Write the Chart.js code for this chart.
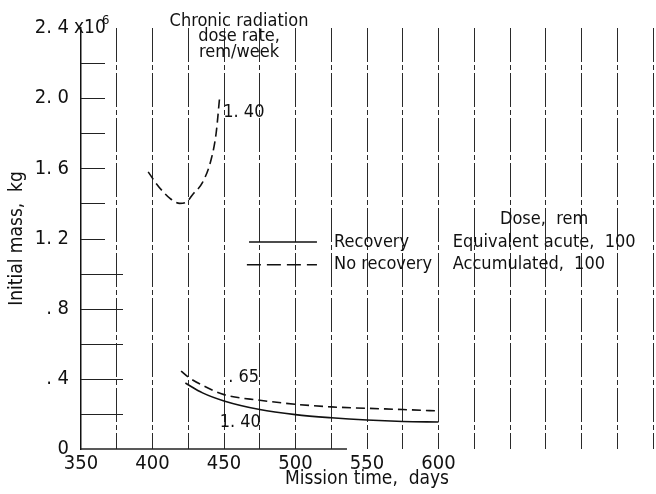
<!DOCTYPE html>
<html>
<head>
<meta charset="utf-8">
<script src="https://cdn.jsdelivr.net/npm/chart.js@4.4.1/dist/chart.umd.min.js"></script>
<style>
  html, body { margin: 0; padding: 0; background: #fff; }
</style>
</head>
<body>
<canvas id="chart" width="656" height="494"></canvas>
<script>
/* Initial mass vs mission time, chronic radiation dose rate */
const FONT = "'Liberation Sans Narrow', 'DejaVu Sans Condensed', sans-serif";

// [mission time (days), initial mass (x10^6 kg)]
const noRecovery140 = [[397,1.58],[402,1.52],[407,1.47],[412,1.43],[419,1.40],[424,1.41],[428,1.45],[435,1.52],[441,1.65],[444.5,1.80],[447,2.01]];
const noRecovery065 = [[420,0.444],[425,0.41],[437,0.355],[450,0.31],[475,0.278],[500,0.255],[525,0.24],[550,0.232],[575,0.225],[600,0.217]];
const recovery140 = [[423,0.376],[435,0.32],[450,0.274],[475,0.225],[500,0.196],[525,0.178],[550,0.165],[575,0.157],[600,0.154]];

const xLabelled = [350, 400, 450, 500, 550, 600];
const yLabels = { '0': '0', '0.4': '. 4', '0.8': '. 8', '1.2': '1. 2', '1.6': '1. 6', '2': '2. 0', '2.4': '2. 4' };

const toPts = arr => arr.map(p => ({ x: p[0], y: p[1] }));

function curve(data, dashed) {
  return {
    data: toPts(data),
    borderColor: '#111',
    borderWidth: 1.6,
    borderDash: dashed ? [9, 5] : [],
    pointRadius: 0,
    fill: false,
    tension: 0.4,
    cubicInterpolationMode: 'monotone'
  };
}

const decor = {
  id: 'decor',
  afterDraw(chart) {
    const { ctx, chartArea: a, scales: { x, y } } = chart;
    ctx.save();
    ctx.strokeStyle = '#222';
    ctx.lineWidth = 1;
    // short horizontal grid stubs off the y axis
    for (let v = 0.2; v < 2.39; v += 0.2) {
      const py = Math.round(y.getPixelForValue(v)) + 0.5;
      ctx.beginPath();
      ctx.moveTo(a.left, py);
      ctx.lineTo(a.left + (v < 1.1 ? 42 : 24), py);
      ctx.stroke();
    }
    // bottom axis line (partial, as in the original)
    ctx.lineWidth = 1.5;
    ctx.beginPath();
    ctx.moveTo(a.left, a.bottom);
    ctx.lineTo(x.getPixelForValue(536), a.bottom);
    ctx.stroke();

    ctx.fillStyle = '#111';
    ctx.textBaseline = 'middle';
    // exponent on top tick
    const top = y.getPixelForValue(2.4);
    ctx.font = '19px ' + FONT;
    ctx.textAlign = 'left';
    ctx.fillText('x10', a.left - 7, top);
    ctx.font = '13px ' + FONT;
    ctx.fillText('6', a.left + 21, top - 7);

    const at = (dx, dy) => [x.getPixelForValue(dx), y.getPixelForValue(dy)];
    ctx.font = '18px ' + FONT;
    ctx.textAlign = 'center';
    let p = at(460.5, 2.44); ctx.fillText('Chronic radiation', p[0], p[1]);
    p = at(460.5, 2.35); ctx.fillText('dose rate,', p[0], p[1]);
    p = at(460.5, 2.26); ctx.fillText('rem/week', p[0], p[1]);

    ctx.textAlign = 'left';
    p = at(449.5, 1.92); ctx.fillText('1. 40', p[0], p[1]);
    p = at(453, 0.41); ctx.fillText('. 65', p[0], p[1]);
    p = at(447, 0.15); ctx.fillText('1. 40', p[0], p[1]);

    // legend
    p = at(643, 1.31); ctx.fillText('Dose,  rem', p[0], p[1]);
    p = at(527, 1.18); ctx.fillText('Recovery', p[0], p[1]);
    p = at(527, 1.05); ctx.fillText('No recovery', p[0], p[1]);
    p = at(610, 1.18); ctx.fillText('Equivalent acute,  100', p[0], p[1]);
    p = at(610, 1.05); ctx.fillText('Accumulated,  100', p[0], p[1]);

    ctx.lineWidth = 1.6;
    ctx.strokeStyle = '#111';
    let s = at(467.5, 1.18), e = at(515, 1.18);
    ctx.beginPath(); ctx.moveTo(s[0], s[1]); ctx.lineTo(e[0], e[1]); ctx.stroke();
    s = at(466, 1.05); e = at(515, 1.05);
    ctx.setLineDash([14, 6]);
    ctx.beginPath(); ctx.moveTo(s[0], s[1]); ctx.lineTo(e[0], e[1]); ctx.stroke();
    ctx.restore();
  }
};

new Chart(document.getElementById('chart'), {
  type: 'line',
  data: {
    datasets: [
      curve(noRecovery140, true),
      curve(noRecovery065, true),
      curve(recovery140, false)
    ]
  },
  options: {
    responsive: false,
    animation: false,
    events: [],
    layout: { padding: { top: 28, right: 1, left: 0, bottom: 0 } },
    plugins: { legend: { display: false }, tooltip: { enabled: false } },
    scales: {
      x: {
        type: 'linear',
        min: 350,
        max: 750,
        afterFit: s => { s.height = 45; },
        ticks: {
          stepSize: 25,
          autoSkip: false,
          maxRotation: 0,
          padding: 3,
          color: '#111',
          font: { family: FONT, size: 20 },
          callback: v => xLabelled.includes(v) ? String(v) : ''
        },
        grid: {
          drawTicks: false,
          color: c => c.tick && c.tick.value === 350 ? 'rgba(0,0,0,0)' : '#2a2a2a',
          lineWidth: 1
        },
        border: { display: false, dash: [34, 3, 5, 3] },
        title: {
          display: true,
          text: 'Mission time,  days',
          color: '#111',
          font: { family: FONT, size: 19 },
          padding: { top: 0, bottom: 4 }
        }
      },
      y: {
        min: 0,
        max: 2.4,
        afterFit: s => { s.width = 81; },
        ticks: {
          stepSize: 0.2,
          autoSkip: false,
          padding: 4,
          color: '#111',
          font: { family: FONT, size: 20 },
          callback: v => yLabels[String(Math.round(v * 10) / 10)] || ''
        },
        grid: { display: false },
        border: { display: true, color: '#111', width: 1.5 },
        title: {
          display: true,
          text: 'Initial mass,  kg',
          color: '#111',
          font: { family: FONT, size: 19 },
          padding: { top: 6, bottom: 0 }
        }
      }
    }
  },
  plugins: [decor]
});
</script>
</body>
</html>
